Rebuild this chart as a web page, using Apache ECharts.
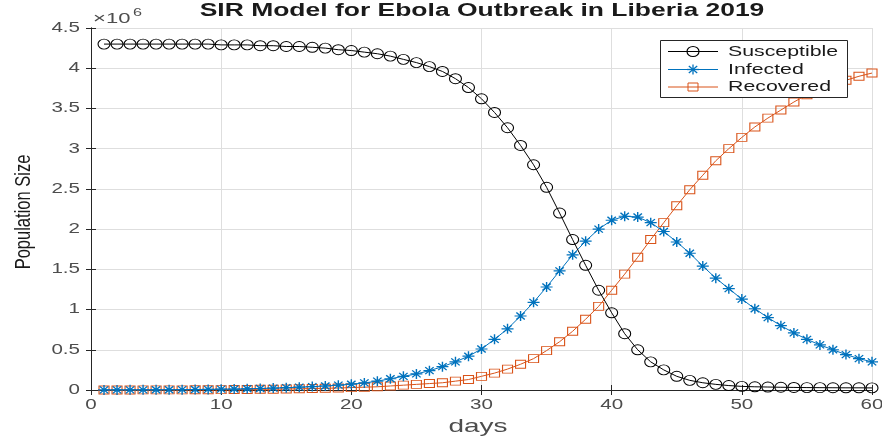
<!DOCTYPE html>
<html>
<head>
<meta charset="utf-8">
<script src="https://cdn.jsdelivr.net/npm/echarts@6/dist/echarts.min.js"></script>
<style>html,body{margin:0;padding:0;background:#fff;}#c{width:882px;height:440px;}</style>
</head>
<body>
<div id="c"></div>
<script>
// Days 1..60
const days = Array.from({length: 60}, (_, i) => i + 1);
// Values in millions (×10^6)
const susceptible = [4.30,4.30,4.30,4.30,4.30,4.30,4.30,4.30,4.30,4.29,
  4.29,4.29,4.28,4.28,4.27,4.27,4.26,4.25,4.23,4.22,
  4.20,4.18,4.15,4.11,4.07,4.02,3.96,3.87,3.76,3.62,
  3.45,3.26,3.04,2.80,2.52,2.20,1.87,1.55,1.24,0.96,
  0.70,0.50,0.35,0.25,0.17,0.12,0.09,0.07,0.055,0.045,
  0.040,0.037,0.034,0.032,0.030,0.029,0.028,0.027,0.027,0.026];
const infected = [0.001,0.0013,0.0017,0.002,0.0027,0.0035,0.0045,0.006,0.0075,0.010,
  0.012,0.015,0.019,0.024,0.029,0.035,0.042,0.050,0.060,0.072,
  0.088,0.11,0.14,0.17,0.20,0.24,0.29,0.35,0.42,0.51,
  0.63,0.76,0.92,1.09,1.28,1.48,1.68,1.85,2.00,2.11,
  2.16,2.15,2.08,1.97,1.84,1.70,1.54,1.39,1.26,1.13,
  1.01,0.90,0.80,0.71,0.63,0.56,0.50,0.44,0.39,0.35];
const recovered = [0.0002,0.0004,0.0006,0.0009,0.0012,0.0016,0.002,0.0027,0.0035,0.0045,
  0.0055,0.007,0.0085,0.010,0.012,0.015,0.018,0.021,0.025,0.030,
  0.035,0.040,0.050,0.060,0.070,0.080,0.090,0.11,0.13,0.17,
  0.21,0.26,0.32,0.39,0.49,0.60,0.73,0.88,1.04,1.24,
  1.44,1.65,1.87,2.08,2.29,2.49,2.67,2.85,3.00,3.14,
  3.27,3.38,3.48,3.58,3.67,3.74,3.80,3.85,3.90,3.94];
const xTicks = [0,10,20,30,40,50,60];
const yTicks = [0,0.5,1,1.5,2,2.5,3,3.5,4,4.5];
const seriesNames = ['Susceptible','Infected','Recovered'];
const titleText = 'SIR Model for Ebola Outbreak in Liberia 2019';
const xName = 'days';
const yName = 'Population Size';

const FONT = '"Liberation Sans", Arial, sans-serif';
const SX = 1.47; // horizontal stretch of the reference's text
const asterisk = 'path://M0,5L10,5M5,0L5,10M1.5,1.5L8.5,8.5M8.5,1.5L1.5,8.5';
const colors = ['#000000', '#0072BD', '#D95319'];

const chart = echarts.init(document.getElementById('c'), null, {renderer: 'canvas'});
const pts = arr => days.map((d, i) => [d, arr[i]]);
const axisCommon = {
  type: 'value', min: 0,
  axisLine: {show: true, lineStyle: {color: '#262626', width: 1}},
  axisTick: {show: true, inside: true, length: 5, lineStyle: {color: '#262626'}},
  axisLabel: {show: false},
  splitLine: {show: true, lineStyle: {color: '#dedede', width: 1}}
};
chart.setOption({
  animation: false,
  backgroundColor: '#fff',
  grid: {left: 91, right: 10, top: 28, bottom: 50, show: false},
  xAxis: [
    Object.assign({}, axisCommon, {max: 60, interval: 10}),
    Object.assign({}, axisCommon, {position: 'top', max: 60, interval: 10, splitLine: {show: false}})
  ],
  yAxis: [
    Object.assign({}, axisCommon, {max: 4.5, interval: 0.5}),
    Object.assign({}, axisCommon, {position: 'right', max: 4.5, interval: 0.5, splitLine: {show: false}})
  ],
  series: [
    {
      name: seriesNames[0], type: 'line', data: pts(susceptible),
      symbol: 'circle', symbolSize: [12, 10],
      lineStyle: {color: colors[0], width: 1},
      itemStyle: {color: 'rgba(255,255,255,0)', borderColor: colors[0], borderWidth: 1},
      z: 3
    },
    {
      name: seriesNames[1], type: 'line', data: pts(infected),
      symbol: asterisk, symbolSize: [12, 10],
      lineStyle: {color: colors[1], width: 1},
      itemStyle: {color: colors[1], borderColor: colors[1], borderWidth: 1.3},
      z: 2
    },
    {
      name: seriesNames[2], type: 'line', data: pts(recovered),
      symbol: 'rect', symbolSize: [10, 8],
      lineStyle: {color: colors[2], width: 1},
      itemStyle: {color: 'rgba(255,255,255,0)', borderColor: colors[2], borderWidth: 1},
      z: 1
    }
  ]
});

// Text, stretched horizontally like the reference
function txt(text, x, y, size, opts) {
  opts = opts || {};
  return {
    type: 'text', x: x, y: y, scaleX: opts.sx || SX, scaleY: opts.sy || 1,
    rotation: opts.rot || 0, z: 100,
    style: {
      text: text, fill: opts.color || '#4d4d4d',
      font: (opts.bold ? 'bold ' : '') + size + 'px ' + FONT,
      align: opts.align || 'center', verticalAlign: opts.va || 'middle'
    }
  };
}
const g = [];
xTicks.forEach(v => {
  const px = chart.convertToPixel({xAxisIndex: 0}, v);
  g.push(txt(String(v), px, 405, 14));
});
yTicks.forEach(v => {
  const py = chart.convertToPixel({yAxisIndex: 0}, v);
  g.push(txt(String(v), 80, py, 14, {align: 'right'}));
});
g.push(txt(titleText, 482, 11, 18, {bold: true, color: '#1a1a1a'}));
g.push(txt(xName, 478, 427, 19));
g.push(txt(yName, 24, 212, 16.5, {sx: 1, sy: 1.3, rot: Math.PI / 2, color: '#1a1a1a'}));
g.push(txt('×10', 93, 18.5, 15, {align: 'left'}));
g.push(txt('6', 133, 12.5, 11, {align: 'left'}));

// Legend box
const LX = 660, LY = 40, LW = 187, LH = 57;
g.push({type: 'rect', z: 90, shape: {x: LX + 0.5, y: LY + 0.5, width: LW, height: LH},
  style: {fill: '#fff', stroke: '#262626', lineWidth: 1}});
const rowY = [51.5, 69.5, 87];
rowY.forEach((ry, i) => {
  g.push({type: 'line', z: 95, shape: {x1: 668, y1: ry, x2: 718, y2: ry},
    style: {stroke: colors[i], lineWidth: 1}});
  g.push(txt(seriesNames[i], 728, ry, 15, {align: 'left', sx: 1.42, color: '#1a1a1a'}));
});
// legend markers
g.push({type: 'circle', z: 96, x: 693, y: rowY[0], scaleX: 1.2,
  shape: {cx: 0, cy: 0, r: 5}, style: {fill: 'rgba(255,255,255,0)', stroke: colors[0], lineWidth: 1}});
[[-6,0,6,0],[0,-5,0,5],[-4.2,-3.5,4.2,3.5],[4.2,-3.5,-4.2,3.5]].forEach(s => {
  g.push({type: 'line', z: 96, shape: {x1: 693 + s[0], y1: rowY[1] + s[1], x2: 693 + s[2], y2: rowY[1] + s[3]},
    style: {stroke: colors[1], lineWidth: 1.3}});
});
g.push({type: 'rect', z: 96, shape: {x: 688, y: rowY[2] - 4, width: 10, height: 8},
  style: {fill: 'rgba(255,255,255,0)', stroke: colors[2], lineWidth: 1}});

chart.setOption({graphic: g});
</script>
</body>
</html>
